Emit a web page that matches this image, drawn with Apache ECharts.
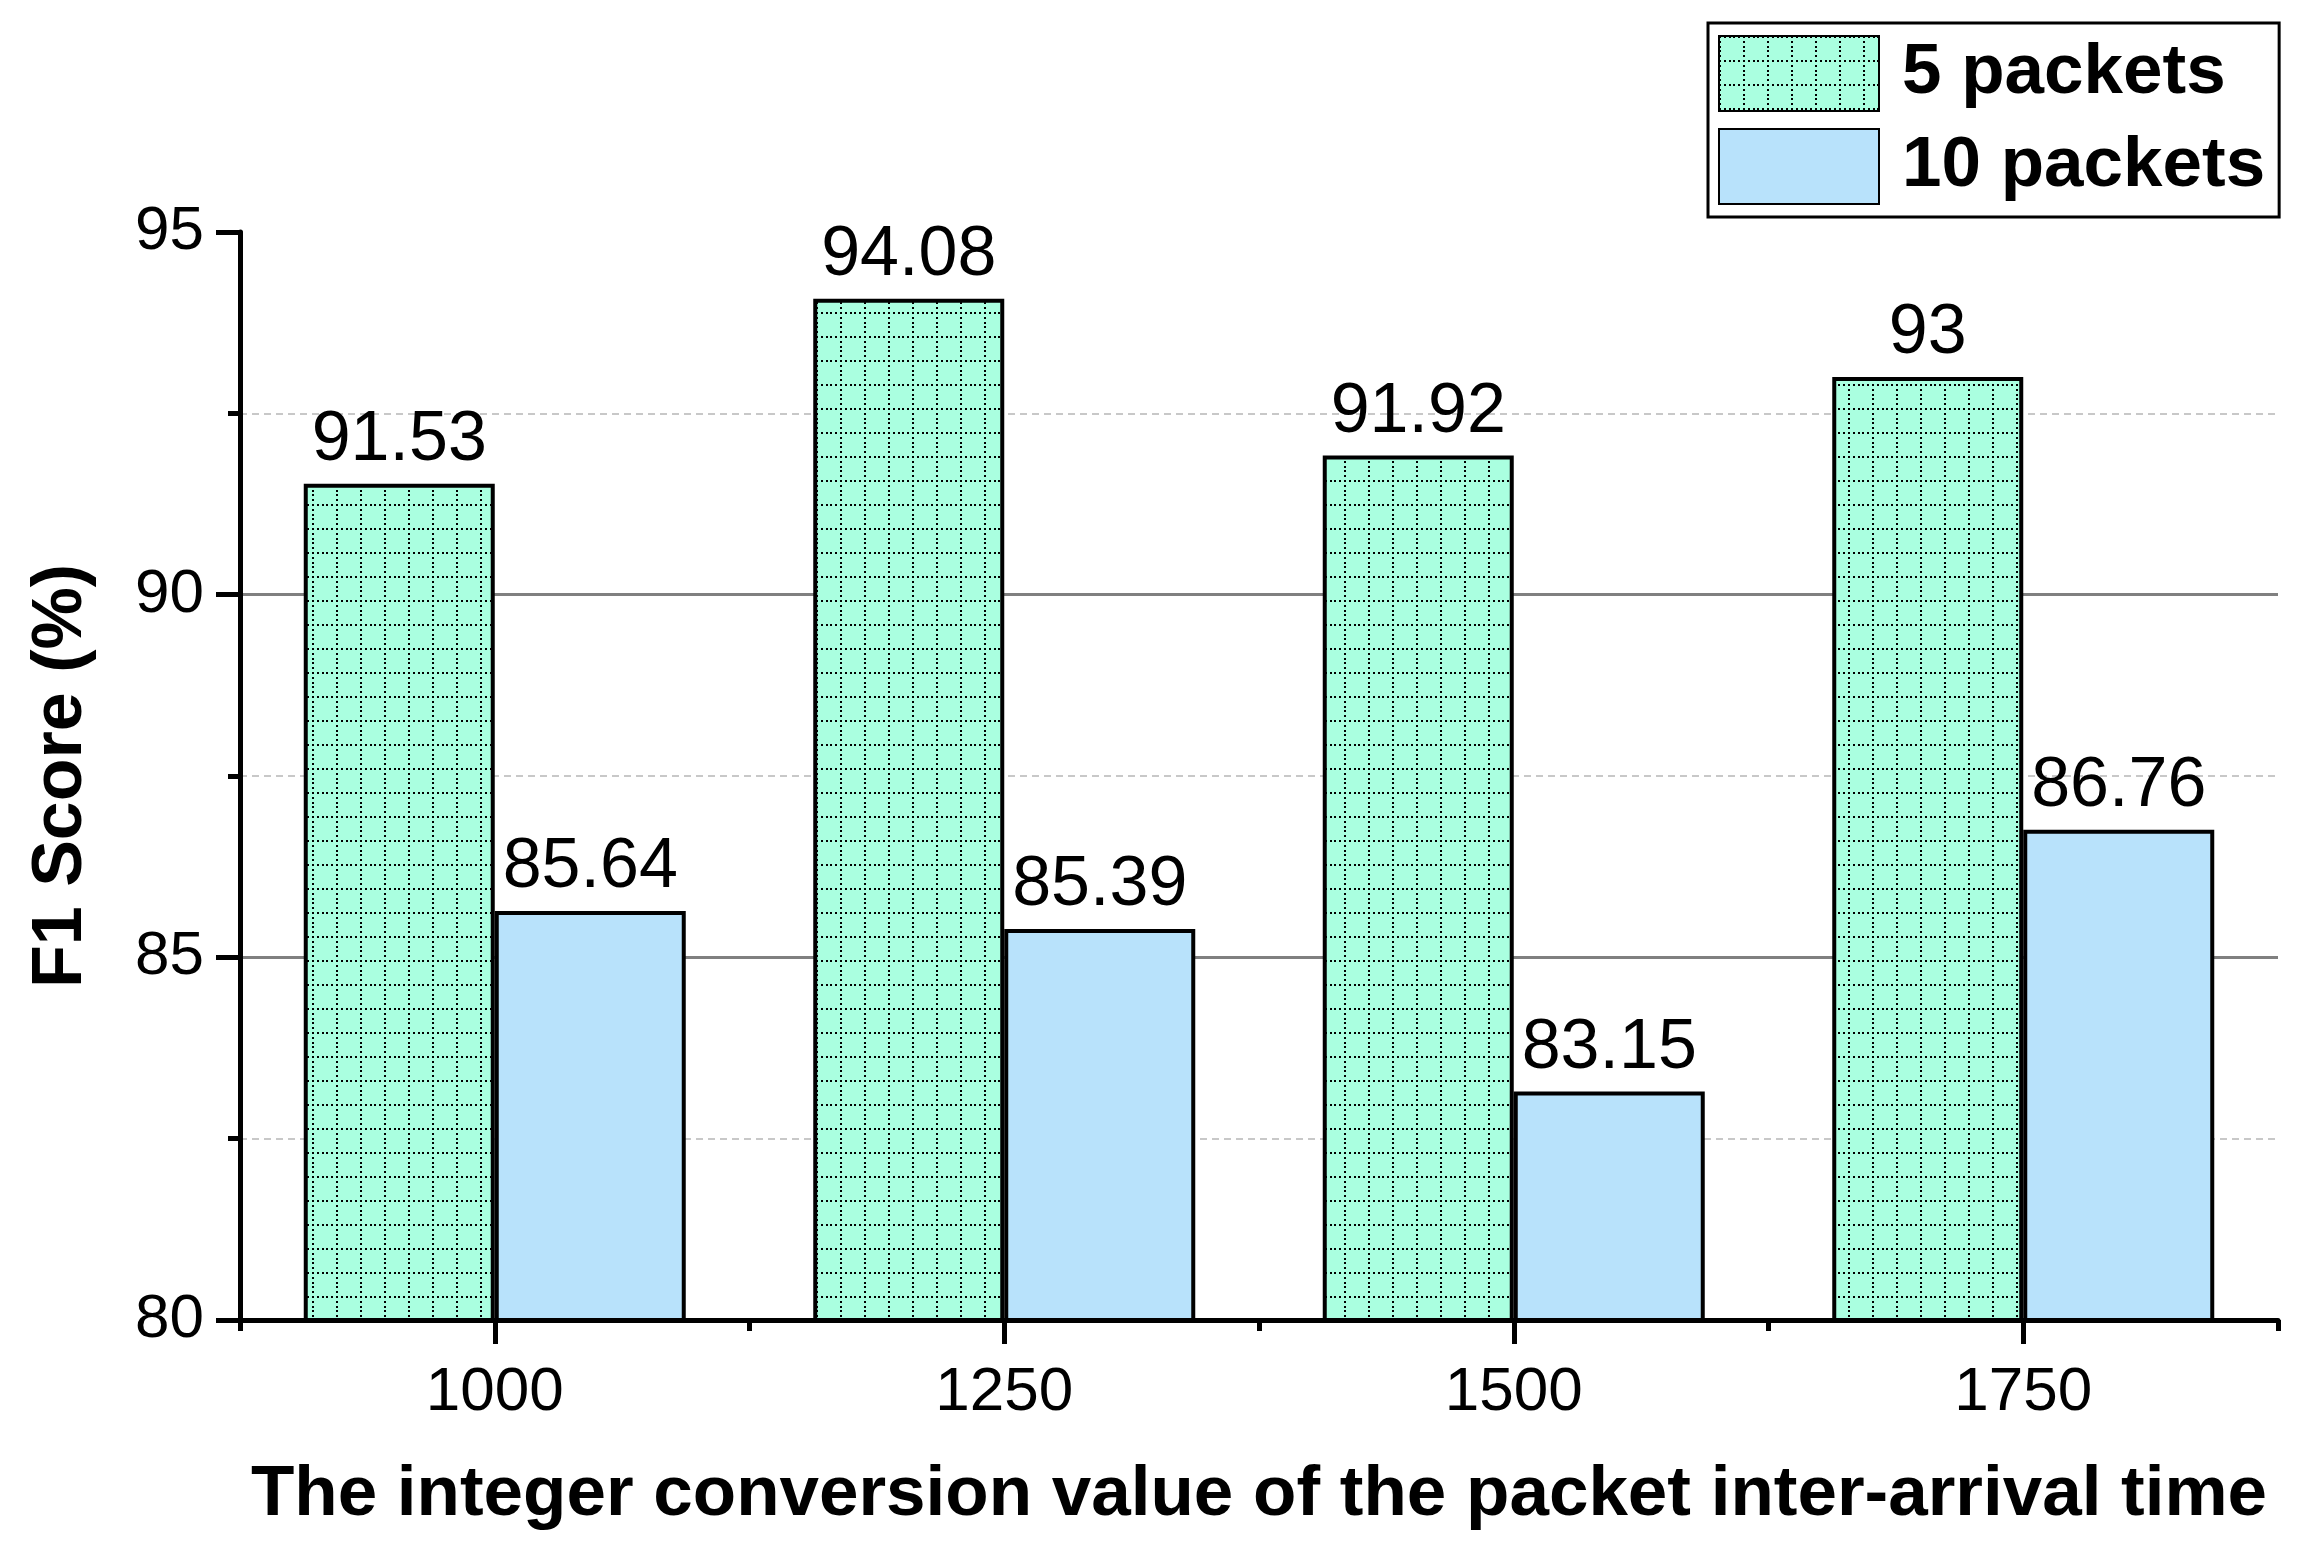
<!DOCTYPE html>
<html>
<head>
<meta charset="utf-8">
<script src="https://cdn.jsdelivr.net/npm/echarts@6/dist/echarts.min.js"></script>
<style>
html,body{margin:0;padding:0;background:#fff;}
#chart{width:2307px;height:1542px;}
</style>
</head>
<body>
<div id="chart"></div>
<script>
const categories = ['1000', '1250', '1500', '1750'];
const seriesNames = ['5 packets', '10 packets'];
const packets5 = [91.53, 94.08, 91.92, 93];
const packets10 = [85.64, 85.39, 83.15, 86.76];
const yTicks = [80, 85, 90, 95];

const FONT = "'Liberation Sans', Arial, sans-serif";

// dotted grid pattern tile for the 5-packets bars
function makePattern() {
  const t = 24;
  const c = document.createElement('canvas');
  c.width = t; c.height = t;
  const ctx = c.getContext('2d');
  ctx.fillStyle = '#aaffe0';
  ctx.fillRect(0, 0, t, t);
  ctx.fillStyle = '#000';
  for (let i = 0; i < 5; i++) {
    const p = Math.round(i * t / 5);
    ctx.fillRect(p, 0, 2, 2);
    ctx.fillRect(0, p, 2, 2);
  }
  return c;
}
const pattern = { image: makePattern(), repeat: 'repeat' };

const chart = echarts.init(document.getElementById('chart'), null, { renderer: 'canvas' });
const labelStyle = { show: true, position: 'top', distance: 8, color: '#000', fontSize: 70, fontFamily: FONT };

chart.setOption({
  backgroundColor: '#fff',
  animation: false,
  textStyle: { fontFamily: FONT, color: '#000' },
  grid: { left: 240, right: 29, top: 232, bottom: 222, containLabel: false },
  legend: {
    orient: 'vertical',
    left: 1708, top: 23,
    padding: [12, 14, 12, 10],
    itemWidth: 160, itemHeight: 75, itemGap: 16,
    borderColor: '#000', borderWidth: 3,
    icon: 'rect',
    textStyle: { fontSize: 71, fontWeight: 'bold', color: '#000', fontFamily: FONT, padding: [0, 0, 0, 18] },
    data: seriesNames
  },
  xAxis: [{
    type: 'category',
    data: categories,
    position: 'bottom',
    axisLine: { show: true, lineStyle: { color: '#000', width: 5 } },
    axisTick: { show: true, alignWithLabel: false, length: 11, lineStyle: { color: '#000', width: 5 } },
    axisLabel: { fontSize: 62, color: '#000', margin: 42, fontFamily: FONT },
    splitLine: { show: false },
    name: 'The integer conversion value of the packet inter-arrival time',
    nameLocation: 'middle',
    nameGap: 140,
    nameTextStyle: { fontSize: 71, fontWeight: 'bold', color: '#000', fontFamily: FONT }
  }, {
    type: 'category',
    data: categories,
    position: 'bottom',
    axisLine: { show: false },
    axisTick: { show: true, alignWithLabel: true, length: 24, lineStyle: { color: '#000', width: 5 } },
    axisLabel: { show: false },
    splitLine: { show: false }
  }],
  yAxis: {
    type: 'value',
    min: yTicks[0], max: yTicks[yTicks.length - 1], interval: 5,
    axisLine: { show: true, lineStyle: { color: '#000', width: 5 } },
    axisTick: { show: true, length: 24, lineStyle: { color: '#000', width: 5 } },
    minorTick: { show: true, splitNumber: 2, length: 12, lineStyle: { color: '#000', width: 5 } },
    splitLine: { show: true, showMinLine: false, showMaxLine: false, lineStyle: { color: '#808080', width: 3 } },
    minorSplitLine: { show: true, lineStyle: { color: '#c8c8c8', width: 2, type: [7, 5] } },
    axisLabel: { fontSize: 62, color: '#000', margin: 36, fontFamily: FONT },
    name: 'F1 Score (%)',
    nameLocation: 'middle',
    nameGap: 143,
    nameTextStyle: { fontSize: 70, fontWeight: 'bold', color: '#000', fontFamily: FONT }
  },
  series: [{
    name: seriesNames[0],
    type: 'bar',
    data: packets5,
    barWidth: 191,
    barGap: '0%',
    itemStyle: { color: pattern, borderColor: '#000', borderWidth: 4 },
    label: labelStyle
  }, {
    name: seriesNames[1],
    type: 'bar',
    data: packets10,
    barWidth: 191,
    barGap: '0%',
    itemStyle: { color: '#b8e2fb', borderColor: '#000', borderWidth: 4 },
    label: labelStyle
  }]
});
</script>
</body>
</html>
